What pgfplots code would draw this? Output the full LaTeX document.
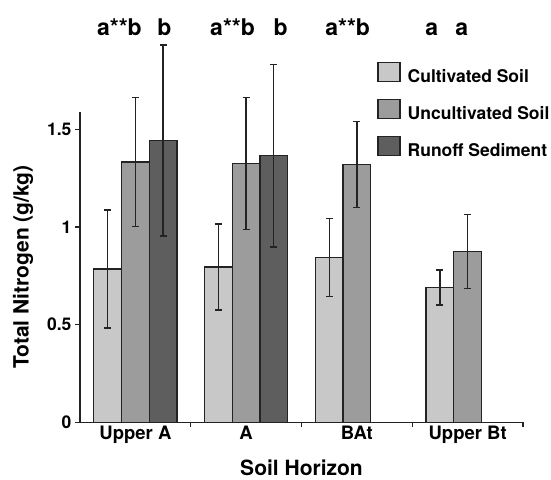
\documentclass[border=0pt]{standalone}
\usepackage{fontspec}
\setmainfont{TeX Gyre Heros}
\usepackage{pgfplots}
\pgfplotsset{compat=1.18}
\definecolor{cult}{RGB}{200,200,200}
\definecolor{uncult}{RGB}{156,156,156}
\definecolor{runoff}{RGB}{94,94,94}
\definecolor{edge}{RGB}{35,35,35}
\begin{document}
\begin{tikzpicture}
\useasboundingbox (-80pt,-56.7pt) rectangle (471pt,422.3pt);
\begin{axis}[
  at={(0pt,0pt)}, anchor=south west,
  scale only axis, width=443pt, height=310.5pt,
  xmin=-0.5, xmax=3.5, ymin=0, ymax=1.59,
  axis x line*=bottom, axis y line*=left,
  axis line style={-, line width=1.2pt, draw=edge},
  ybar=0pt, bar width=0.25,
  xtick={0.5,1.5,2.5,3.5}, xticklabels={},
  extra x ticks={0,1,2,3},
  extra x tick labels={Upper A, A, BAt, Upper Bt},
  extra x tick style={major tick length=0pt},
  ytick={0,0.5,1,1.5},
  /pgf/number format/assume math mode=true,
  tick align=outside, major tick length=5pt,
  tick style={line width=1.2pt, draw=edge},
  xticklabel style={font=\fontsize{18.5}{21}\selectfont\bfseries},
  yticklabel style={font=\fontsize{17.5}{20}\selectfont\bfseries},
  clip=false,
  xlabel={Soil Horizon},
  xlabel style={at={(axis description cs:0.5,0)}, anchor=base, yshift=-53pt, inner sep=0pt, font=\fontsize{21}{24}\selectfont\bfseries},
  ylabel={Total Nitrogen (g/kg)},
  ylabel style={at={(axis description cs:-0.1287,0.5)}, anchor=center, font=\fontsize{21}{24}\selectfont\bfseries},
  legend cell align=left,
  legend image code/.code={\draw[#1, draw=edge, line width=1.2pt] (0pt,-3.2pt) rectangle (22pt,15.8pt);},
  legend style={draw=none, fill=none, at={(axis description cs:0.6711,1.1614)}, anchor=north west,
    inner sep=0pt, row sep=12.5pt, column sep=7pt,
    nodes={inner sep=0pt, text height=12.6pt, text depth=3.7pt},
    font=\fontsize{17.5}{20}\selectfont\bfseries},
  error bars/y dir=both, error bars/y explicit,
  error bars/error bar style={line width=1.3pt, draw=edge},
  error bars/error mark options={rotate=90, mark size=3.5pt, line width=1.3pt, draw=edge},
]
\addplot[fill=cult, draw=edge, line width=1.2pt] coordinates {
  (0,0.785) +- (0,0.302)
  (1,0.795) +- (0,0.220)
  (2,0.845) +- (0,0.200)
  (3,0.690) +- (0,0.090)
};
\addplot[fill=uncult, draw=edge, line width=1.2pt] coordinates {
  (0,1.333) +- (0,0.329)
  (1,1.325) +- (0,0.337)
  (2,1.320) +- (0,0.220)
  (3,0.874) +- (0,0.190)
};
\addplot[fill=runoff, draw=edge, line width=1.2pt] coordinates {
  (0,1.443) +- (0,0.489)
  (1,1.365) +- (0,0.467)
};
\legend{Cultivated Soil, Uncultivated Soil, Runoff Sediment}
\begin{scope}[every node/.style={font=\fontsize{23}{26}\selectfont\bfseries, anchor=base, inner sep=0pt}]
\node at (axis cs:-0.144,1.983) {a**b};
\node at (axis cs:0.261,1.983) {b};
\node at (axis cs:0.878,1.983) {a**b};
\node at (axis cs:1.311,1.983) {b};
\node at (axis cs:1.917,1.983) {a**b};
\node at (axis cs:2.676,1.983) {a};
\node at (axis cs:2.946,1.983) {a};
\end{scope}
\end{axis}
\end{tikzpicture}
\end{document}
